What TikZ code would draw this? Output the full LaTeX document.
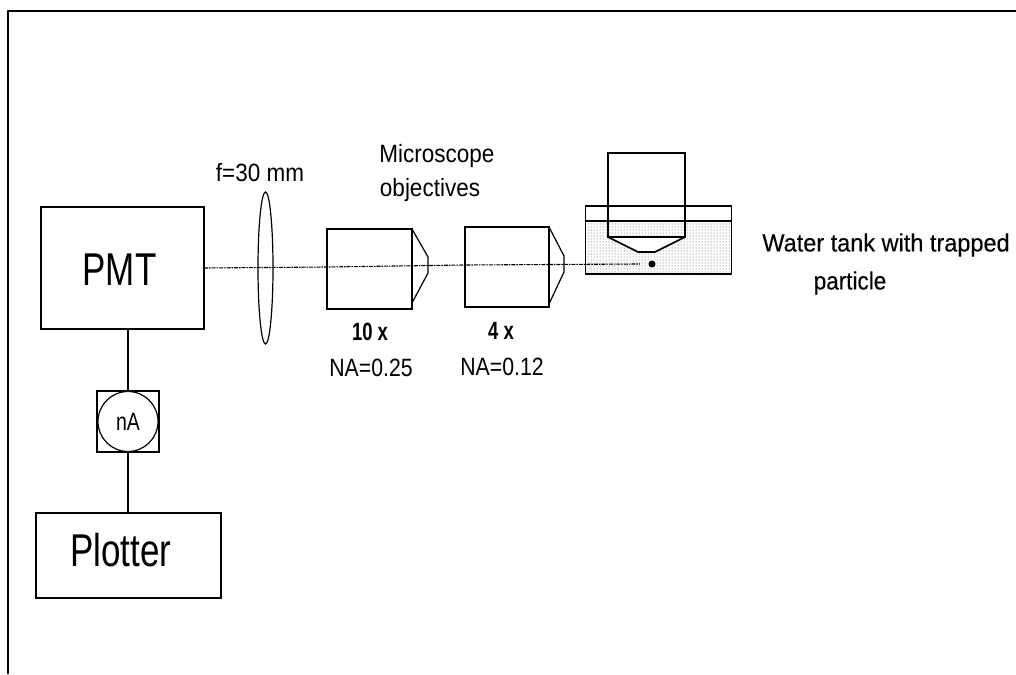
\documentclass[tikz,border=0pt]{standalone}
\usepackage{fontspec}
\usepackage{graphicx}
\setmainfont{Liberation Sans}
\newfontfamily\inkf[FakeBold=0.25]{Liberation Sans}
\newcommand\sx[2]{\scalebox{#1}[1]{#2}}
\usetikzlibrary{patterns,shapes.geometric}
\tikzset{
  box/.style={draw=black,line width=1.2pt,fill=none,inner sep=0pt,outer sep=0pt},
  ink/.style={draw=black,line width=1.2pt,line join=round},
  thin ink/.style={draw=black,line width=1.1pt},
  axis/.style={draw=black,line width=1.1pt,dash pattern=on 4pt off 1pt on 1.5pt off 1pt},
  lab/.style={inner sep=0pt,text=black,font=\fontsize{25}{30}\selectfont,align=center},
  heavy lab/.style={inner sep=0pt,text=black,font=\fontsize{25}{30}\selectfont\inkf},
  bold lab/.style={inner sep=0pt,text=black,font=\fontsize{25}{30}\selectfont\bfseries},
  big/.style={inner sep=0pt,text=black,font=\fontsize{46}{54}\selectfont},
}
\begin{document}
\begin{tikzpicture}[x=1pt,y=-1pt]
\useasboundingbox (0,0) rectangle (1016,674);
% water
\fill[pattern=dots,pattern color=black!70] (586,222) rectangle (731,274);
% frame
\coordinate (fa) at (8,674); \coordinate (fb) at (8,11); \coordinate (fc) at (1016,11);
\draw[ink,line width=2pt] (fa) -- (fb) -- (fc);
% boxes
\node[box,minimum width=163pt,minimum height=122pt] (pmt) at (122.5,268) {};
\node[big] (pmtt) at (119.5,270) {\sx{.76}{PMT}};
\node[box,minimum width=185pt,minimum height=85pt] (plot) at (128.5,555.5) {};
\node[big] (plott) at (121,550) {\sx{.76}{Plotter}};
\node[box,minimum width=62pt,minimum height=61pt] (nasq) at (128,421.5) {};
\node[draw=black,line width=1.2pt,circle,minimum size=60pt,inner sep=0pt,font=\fontsize{25}{30}\selectfont] (na) at (128,421.5) {\sx{.78}{nA}};
\draw[thin ink] (nasq.north) -- (nasq.north |- pmt.south);
\draw[thin ink] (nasq.south) -- (nasq.south |- plot.north);
% lens
\node[draw=black,line width=1.2pt,ellipse,minimum width=15pt,minimum height=152pt,inner sep=0pt] (lens) at (265.5,268) {};
% objective 1
\node[box,minimum width=85pt,minimum height=80pt] (ob1) at (369.5,269) {};
\coordinate (t1a) at (412,229); \coordinate (t1b) at (428,257); \coordinate (t1c) at (428,273); \coordinate (t1d) at (412,303);
\draw[ink] (t1a) -- (t1b) -- (t1c) -- (t1d);
% objective 2
\node[box,minimum width=84pt,minimum height=80pt] (ob2) at (507,267) {};
\coordinate (t2a) at (549,227); \coordinate (t2b) at (564,256); \coordinate (t2c) at (564,272); \coordinate (t2d) at (549,304);
\draw[ink] (t2a) -- (t2b) -- (t2c) -- (t2d);
% tank
\node[box,line width=1.4pt,minimum width=146pt,minimum height=68pt] (tank) at (658.5,240) {};
\coordinate (wl) at (585.5,221); \coordinate (wr) at (731.5,221);
\draw[ink,line width=1.4pt] (wl) -- (wr);
% objective 3
\node[box,line width=1.4pt,minimum width=77pt,minimum height=84pt] (ob3) at (646.5,195) {};
\coordinate (s1) at (608,237); \coordinate (s2) at (685,237);
\coordinate (c1) at (638,252); \coordinate (c2) at (655,252);
\draw[ink,line width=1.6pt,fill=white] (s1) -- (s2) -- (c2) -- (c1) -- cycle;
\node[circle,fill=black,minimum size=7pt,inner sep=0pt] (part) at (652,264) {};
% optical axis
\coordinate (axe) at (640,264);
\draw[axis] (pmt.east |- 0,268) -- (ob1.west |- 0,267) -- (ob2.west |- 0,265) -- (axe);
% labels
\node[lab] (l1) at (260,173) {\sx{.9}{f=30 mm}};
\node[lab] (l2) at (437,156) {\sx{.9}{Microscope}};
\node[lab] (l3) at (430,190) {\sx{.9}{objectives}};
\node[bold lab] (l4) at (370,332) {\sx{.74}{10 x}};
\node[bold lab] (l5) at (501,331) {\sx{.74}{4 x}};
\node[lab] (l6) at (371,368) {\sx{.85}{NA=0.25}};
\node[lab] (l7) at (502,367) {\sx{.85}{NA=0.12}};
\node[heavy lab] (l8) at (886,245) {\sx{.94}{Water tank with trapped}};
\node[heavy lab] (l9) at (850,283) {\sx{.9}{particle}};
\end{tikzpicture}
\end{document}
